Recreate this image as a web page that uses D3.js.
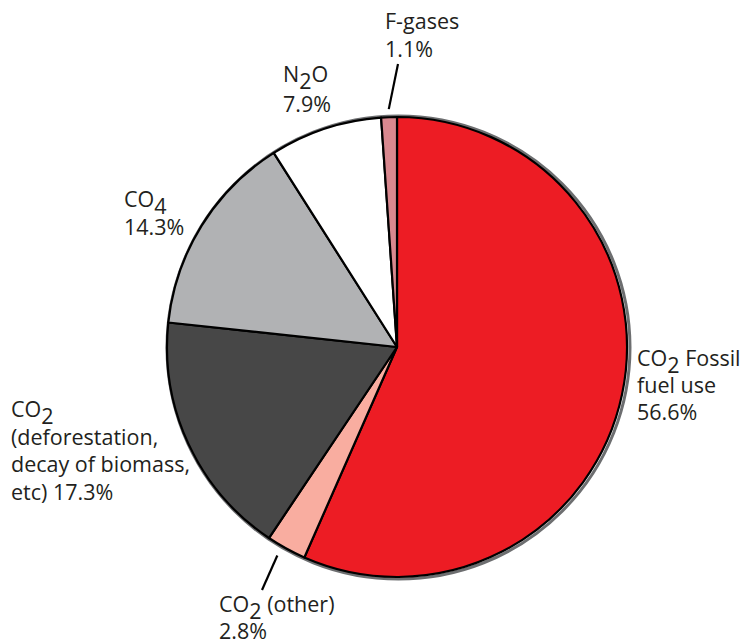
<!DOCTYPE html>
<html>
<head>
<meta charset="utf-8">
<script src="https://cdn.jsdelivr.net/npm/d3@7/dist/d3.min.js"></script>
<style>
  html, body { margin: 0; padding: 0; background: #fff; }
  svg text { font-family: "Open Sans", "Noto Sans", sans-serif; fill: #231f20; }
</style>
</head>
<body>
<svg id="chart" width="742" height="643"></svg>
<script>
// Greenhouse gas emission shares (%)
const categories = ["CO2 Fossil fuel use", "CO2 (other)", "CO2 (deforestation, decay of biomass, etc)", "CO4", "N2O", "F-gases"];
const shares = [56.6, 2.8, 17.3, 14.3, 7.9, 1.1];
const colors = ["#ed1c24", "#f9ada0", "#474747", "#b1b2b4", "#ffffff", "#d9888f"];

// Label lines: each line is a list of [text, isSubscript] runs
const labelLines = [
  [[["CO", 0], ["2", 1], [" Fossil", 0]], [["fuel use", 0]], [["56.6%", 0]]],
  [[["CO", 0], ["2", 1], [" (other)", 0]], [["2.8%", 0]]],
  [[["CO", 0], ["2", 1]], [["(deforestation,", 0]], [["decay of biomass,", 0]], [["etc) 17.3%", 0]]],
  [[["CO", 0], ["4", 1]], [["14.3%", 0]]],
  [[["N", 0], ["2", 1], ["O", 0]], [["7.9%", 0]]],
  [[["F-gases", 0]], [["1.1%", 0]]]
];

const svg = d3.select("#chart");
const cx = 397, cy = 347, r = 230;
const g = svg.append("g").attr("transform", `translate(${cx},${cy})`);

const pie = d3.pie().sort(null).value(d => d).startAngle(0).endAngle(2 * Math.PI);
const arcs = pie(shares);
const arc = d3.arc().innerRadius(0).outerRadius(r);

// soft grey rim behind the disc
g.append("circle")
  .attr("cx", 1.5).attr("cy", 0.5)
  .attr("r", r + 1.5)
  .attr("fill", "none")
  .attr("stroke", "#6d6e70")
  .attr("stroke-width", 3);

g.selectAll("path.slice")
  .data(arcs)
  .join("path")
  .attr("class", "slice")
  .attr("d", arc)
  .attr("fill", (d, i) => colors[i])
  .attr("stroke", "#000")
  .attr("stroke-width", 2.2)
  .attr("stroke-linejoin", "round");

// label placement (page coords of first baseline)
const labelPos = [
  { x: 637, y: 366 },
  { x: 219, y: 612 },
  { x: 11, y: 417 },
  { x: 124, y: 207 },
  { x: 283, y: 82 },
  { x: 385, y: 29 }
];
const lineH = [27, 27, 27.5, 28, 30, 28];
const fontSize = 21.5;
const subDrop = 7;

labelLines.forEach((lines, i) => {
  const p = labelPos[i];
  const t = svg.append("text")
    .attr("font-size", fontSize)
    .attr("text-anchor", "start");
  lines.forEach((runs, li) => {
    const line = t.append("tspan").attr("x", p.x).attr("y", p.y + li * lineH[i]);
    let shift = 0;
    runs.forEach(([txt, sub]) => {
      const target = sub ? subDrop : 0;
      const dy = target - shift;
      shift = target;
      line.append("tspan")
        .attr("dy", dy !== 0 ? dy : null)
        .text(txt);
    });
  });
});

// leader lines for the two thin slices
const leaders = [
  { i: 5, inner: 8, dx0: 0, outer: [398, 64] },
  { i: 1, inner: 8, dx0: -5, outer: [262, 590] }
];
leaders.forEach(l => {
  const a = (arcs[l.i].startAngle + arcs[l.i].endAngle) / 2;
  const rr = r + l.inner;
  const x0 = cx + rr * Math.sin(a) + l.dx0;
  const y0 = cy - rr * Math.cos(a);
  svg.append("line")
    .attr("x1", x0).attr("y1", y0)
    .attr("x2", l.outer[0]).attr("y2", l.outer[1])
    .attr("stroke", "#000")
    .attr("stroke-width", 2.2);
});
</script>
</body>
</html>
